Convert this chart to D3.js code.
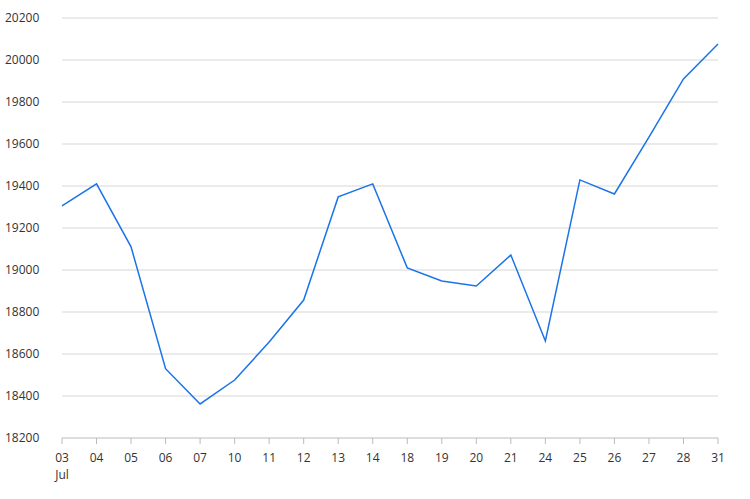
<!DOCTYPE html>
<html><head><meta charset="utf-8">
<script src="https://cdn.jsdelivr.net/npm/d3@7"></script>
<style>body{margin:0;background:#fff}text{font-family:"Open Sans",sans-serif;font-size:12px;fill:#333}</style>
</head><body><div class="chart"></div>
<script>
var days = ['03','04','05','06','07','10','11','12','13','14','18','19','20','21','24','25','26','27','28','31'];
var values = [19305,19410,19110,18530,18362,18476,18657,18857,19348,19410,19010,18948,18924,19071,18662,19429,19362,19633,19910,20076];
var yTicks = [18200,18400,18600,18800,19000,19200,19400,19600,19800,20000,20200];

var svg = d3.select('.chart').append('svg').attr('width',750).attr('height',499);
var x = d3.scalePoint().domain(days).range([62,718]);
var y = d3.scaleLinear().domain([18200,20200]).range([438,18]);

svg.append('g').selectAll('line').data(yTicks).enter().append('line')
	.attr('x1',62).attr('x2',718).attr('y1',function(d){return y(d);}).attr('y2',function(d){return y(d);})
	.attr('stroke',function(d){return d==18200?'#bbb':'#d6d6d6';}).attr('stroke-width',1);
svg.append('g').selectAll('text').data(yTicks).enter().append('text')
	.attr('x',5).attr('y',function(d){return y(d)+4;}).text(function(d){return d;});

var xg = svg.append('g');
xg.selectAll('line').data(days).enter().append('line')
	.attr('x1',function(d){return x(d);}).attr('x2',function(d){return x(d);})
	.attr('y1',438).attr('y2',444).attr('stroke','#bbb');
xg.selectAll('text').data(days).enter().append('text')
	.attr('x',function(d){return x(d);}).attr('y',462).attr('text-anchor','middle').text(function(d){return d;});
xg.append('text').attr('x',x('03')).attr('y',479).attr('text-anchor','middle').text('Jul');

var line = d3.line().x(function(d,i){return x(days[i]);}).y(function(d){return y(d);});
svg.append('path').datum(values).attr('d',line).attr('fill','none').attr('stroke','#1a73e8').attr('stroke-width',1.5);
</script></body></html>
